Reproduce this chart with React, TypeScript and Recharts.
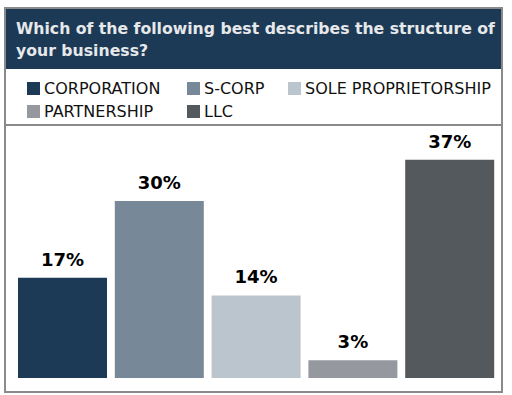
import { BarChart, Bar, XAxis, YAxis, Cell, LabelList } from "recharts";

const categories = ["CORPORATION", "S-CORP", "SOLE PROPRIETORSHIP", "PARTNERSHIP", "LLC"];
const shares = [17, 30, 14, 3, 37];
const colors = ["#1c3a56", "#778899", "#bbc5cd", "#95989e", "#54595d"];

const title = "Which of the following best describes the structure of your business?";

const data = categories.map((name, i) => ({ name, value: shares[i] }));

const font = "'DejaVu Sans', sans-serif";

export default function App() {
  return (
    <div
      style={{
        position: "absolute",
        left: 4,
        top: 7,
        width: 499,
        height: 386,
        border: "2px solid #8a8a8a",
        boxSizing: "border-box",
        background: "#fff",
        fontFamily: font,
      }}
    >
      <div
        style={{
          height: 60,
          background: "#1c3a56",
          color: "#e6e8ea",
          fontWeight: "bold",
          fontSize: 15.7,
          lineHeight: "22px",
          padding: "9px 0 0 10px",
          boxSizing: "border-box",
        }}
      >
        {title}
      </div>
      <div
        style={{
          height: 57,
          borderBottom: "2px solid #8a8a8a",
          boxSizing: "border-box",
          display: "grid",
          gridTemplateColumns: "160px 101px auto",
          gridAutoRows: "23px",
          padding: "8px 0 0 21px",
        }}
      >
        {categories.map((c, i) => (
          <div
            key={c}
            style={{ display: "flex", alignItems: "center", fontSize: 16, color: "#111", whiteSpace: "nowrap" }}
          >
            <span style={{ width: 13, height: 13, background: colors[i], marginRight: 4, flexShrink: 0 }} />
            {c}
          </div>
        ))}
      </div>
      <BarChart width={495} height={265} data={data} margin={{ top: 16, right: 3, bottom: 13, left: 8 }}>
        <XAxis dataKey="name" hide />
        <YAxis hide domain={[0, 40]} />
        <Bar dataKey="value" barSize={89} isAnimationActive={false}>
          {data.map((d, i) => (
            <Cell key={d.name} fill={colors[i]} />
          ))}
          <LabelList
            dataKey="value"
            position="top"
            offset={12}
            formatter={(v: number) => `${v}%`}
            style={{ fontSize: 18, fontWeight: "bold", fill: "#000", fontFamily: font }}
          />
        </Bar>
      </BarChart>
    </div>
  );
}
